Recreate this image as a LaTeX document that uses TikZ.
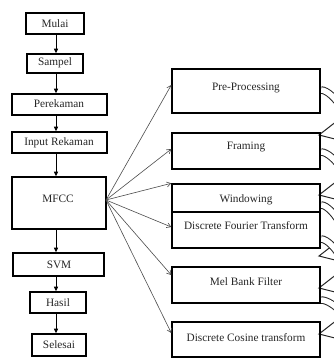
\documentclass[tikz,border=0pt]{standalone}
\usepackage{fontspec}
\setmainfont{Liberation Serif}
\usetikzlibrary{arrows.meta,calc}
\newcommand\dfont{\fontsize{11.3pt}{13pt}\selectfont}
\newcommand\bendarrow[2]{%
  \draw[band] (321,#1) .. controls (333,#1) and (358,#2-10) .. (338,#2-4);
  \draw[bhead] ($(338,#2-4)!9.5pt!90:(319,#2)$) -- (319,#2) -- ($(338,#2-4)!9.5pt!-90:(319,#2)$) -- cycle;
}
\tikzset{
  box/.style={draw=black, line width=1.6pt, inner sep=0pt},
  rbox/.style={draw=black, line width=1.4pt, inner sep=0pt, minimum width=148pt},
  txt/.style={inner sep=0pt, font=\dfont, text=black!85},
  varr/.style={draw=black, line width=0.9pt, -{Triangle[length=4.5pt,width=4pt]}},
  fan/.style={draw=black!70, line width=0.6pt, -{Straight Barb[length=4pt,width=5pt]}},
  band/.style={draw=black!85, line width=1pt, double=white, double distance=5.5pt},
  bhead/.style={draw=black!85, fill=white, line width=1pt, line join=miter},
}
\begin{document}
\begin{tikzpicture}[x=1pt, y=-1pt]
\useasboundingbox (0,0) rectangle (334,359);
\fill[white] (0,0) rectangle (334,359);

% curved block arrows on the right (clipped at the page edge)
\begin{scope}
  \clip (0,0) rectangle (334,359);
  \bendarrow{90}{135}
  \bendarrow{152}{195}
  \bendarrow{205}{256}
  \bendarrow{239}{288}
  \bendarrow{300}{334}
\end{scope}

% left column
\coordinate (spine) at (56,0);
\node[box, minimum width=58pt, minimum height=21pt] (mulai) at (55,23.5) {};
\node[txt] (mulait) at (55,24) {Mulai};
\node[box, minimum width=56pt, minimum height=19pt] (sampel) at (55,63.5) {};
\node[txt] (sampelt) at (55,63) {Sampel};
\node[box, minimum width=95pt, minimum height=21pt] (perekaman) at (59.5,104.5) {};
\node[txt] (perekamant) at (59,104) {Perekaman};
\node[box, minimum width=95pt, minimum height=21pt] (input) at (59.5,142.5) {};
\node[txt] (inputt) at (59,143) {Input Rekaman};
\node[box, minimum width=94pt, minimum height=52pt] (mfcc) at (59,203) {};
\node[txt] (mfcct) at (58,199) {MFCC};
\node[box, minimum width=91pt, minimum height=23pt] (svm) at (58.5,264.5) {};
\node[txt] (svmt) at (59,265) {SVM};
\node[box, minimum width=56pt, minimum height=21pt] (hasil) at (58,302.5) {};
\node[txt] (hasilt) at (58,303) {Hasil};
\node[box, minimum width=54pt, minimum height=22pt] (selesai) at (59,345) {};
\node[txt] (selesait) at (59,345) {Selesai};

\draw[varr] (mulai.south -| spine) -- (sampel.north -| spine);
\draw[varr] (sampel.south -| spine) -- (perekaman.north -| spine);
\draw[varr] (perekaman.south -| spine) -- (input.north -| spine);
\draw[varr] (input.south -| spine) -- (mfcc.north -| spine);
\draw[varr] (mfcc.south -| spine) -- (svm.north -| spine);
\draw[varr] (svm.south -| spine) -- (hasil.north -| spine);
\draw[varr] (hasil.south -| spine) -- (selesai.north -| spine);

% right column
\node[rbox, minimum height=44pt] (pre) at (246,91) {};
\node[txt] (pret) at (246,88) {Pre-Processing};
\node[rbox, minimum height=36pt] (framing) at (246,151) {};
\node[txt] (framingt) at (246,147) {Framing};
\node[rbox, minimum height=28pt] (windowing) at (246,198) {};
\node[txt] (windowingt) at (246,200) {Windowing};
\node[rbox, minimum height=36pt] (dft) at (246,230) {};
\node[txt] (dftt) at (246,226) {Discrete Fourier Transform};
\node[rbox, minimum height=36pt] (mel) at (246,285) {};
\node[txt] (melt) at (246,282) {Mel Bank Filter};
\node[rbox, minimum height=35pt] (dct) at (246,339.5) {};
\node[txt] (dctt) at (246,338) {Discrete Cosine transform};

% fan of arrows from MFCC
\coordinate (fo) at (106,200);
\draw[fan] (fo) -- (pre.west |- 0,85);
\draw[fan] (fo) -- (framing.west |- 0,149);
\draw[fan] (fo) -- (windowing.north west);
\draw[fan] (fo) -- (dft.west |- 0,227);
\draw[fan] (fo) -- (mel.west |- 0,275);
\draw[fan] (fo) -- (dct.west |- 0,333);
\end{tikzpicture}
\end{document}
